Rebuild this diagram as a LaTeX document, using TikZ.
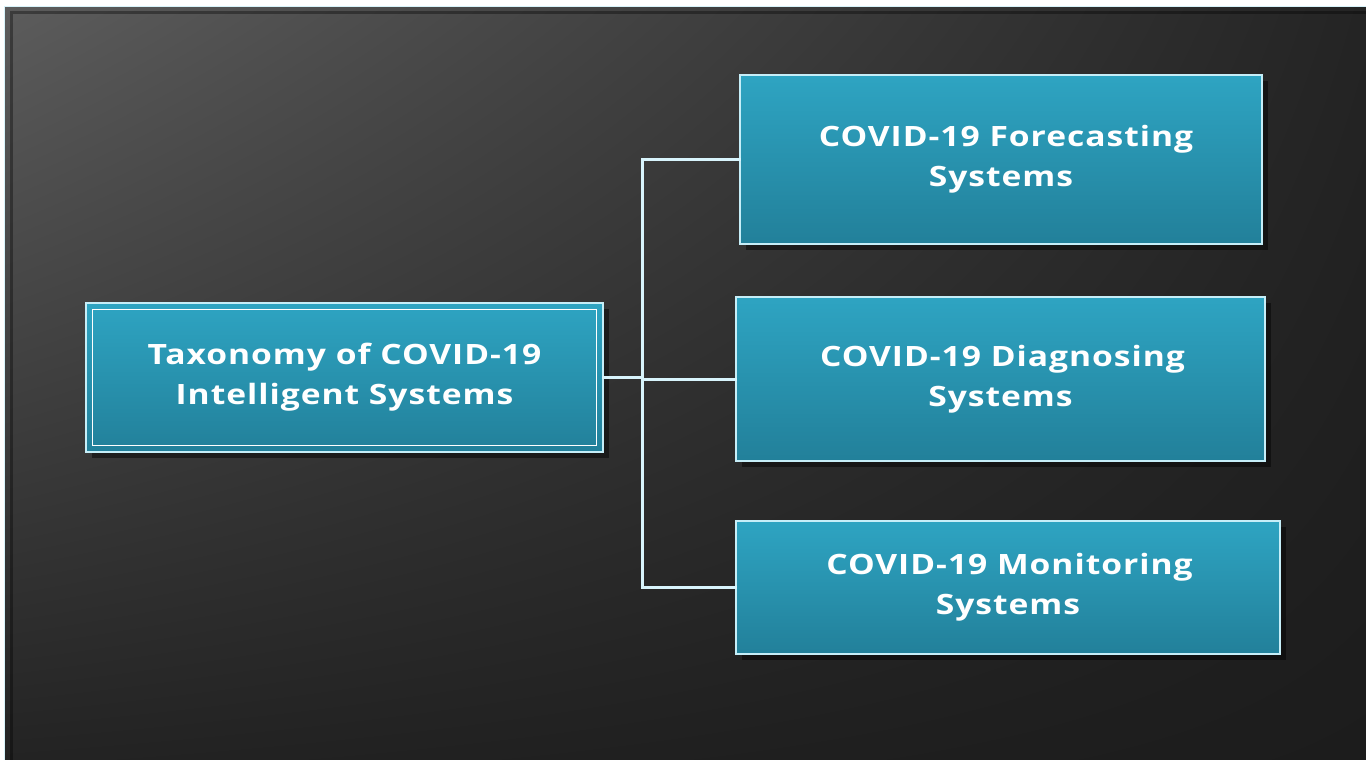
\documentclass[tikz,border=0pt]{standalone}
\usepackage{fontspec}
\newfontfamily\boxfont[LetterSpace=3.5, FakeStretch=1.2]{Open Sans}
\usetikzlibrary{shadows,shadings}

\definecolor{boxtop}{HTML}{2EA4C2}
\definecolor{boxbot}{HTML}{22809A}
\definecolor{edgecyan}{HTML}{C6EEF8}
\definecolor{linkcyan}{HTML}{D8F4FC}
\definecolor{bgul}{HTML}{5C5C5C}
\definecolor{bgur}{HTML}{242424}
\definecolor{bgll}{HTML}{232323}
\definecolor{bglr}{HTML}{1C1C1C}

\tikzset{
  taxbox/.style={
    rectangle, draw=edgecyan, line width=1.3pt,
    top color=boxtop, bottom color=boxbot,
    text=white, align=center, inner sep=0pt,
    font=\boxfont\bfseries\fontsize{28}{40}\selectfont,
    drop shadow={shadow xshift=6pt, shadow yshift=-6pt, fill=black, opacity=0.45}
  },
  conn/.style={draw=linkcyan, line width=3pt, line cap=rect}
}

\begin{document}
\begin{tikzpicture}[x=1pt,y=-1pt]
  \useasboundingbox (0,0) rectangle (1366,760);
  \fill[white] (0,0) rectangle (1366,760);

  % dark panel with diagonal shading
  \shade[upper left=bgul, upper right=bgur, lower left=bgll, lower right=bglr]
    (5,7) rectangle (1366,760);
  \draw[edgecyan!70, line width=1pt] (4.5,760) -- (4.5,6.5) -- (1366,6.5);
  \draw[black, opacity=0.35, line width=2.5pt] (11.5,760) -- (11.5,12.5) -- (1366,12.5);

  % boxes
  \node[taxbox, minimum width=517pt, minimum height=149pt] (root) at (344.5,377.5)
    {Taxonomy of COVID-19\\Intelligent Systems};
  \draw[white, line width=0.9pt]
    ([shift={(7.5,7.5)}]root.north west) rectangle ([shift={(-7.5,-7.5)}]root.south east);

  \node[taxbox, minimum width=522pt, minimum height=169pt] (fc) at (1001,159.5)
    {\hspace*{10pt}COVID-19 Forecasting\\Systems};
  \node[taxbox, minimum width=529pt, minimum height=164pt] (dg) at (1000.5,379)
    {\hspace*{4pt}COVID-19 Diagnosing\\Systems};
  \node[taxbox, minimum width=544pt, minimum height=133pt] (mo) at (1008,587.5)
    {\hspace*{3pt}COVID-19 Monitoring\\Systems};

  % connectors
  \coordinate (j) at (642,378);
  \draw[conn] (root.east) -- (root.east -| j);
  \draw[conn] (fc.west) -| (mo.west -| j) -- (mo.west);
  \draw[conn] (dg.west -| j) -- (dg.west);
\end{tikzpicture}
\end{document}
